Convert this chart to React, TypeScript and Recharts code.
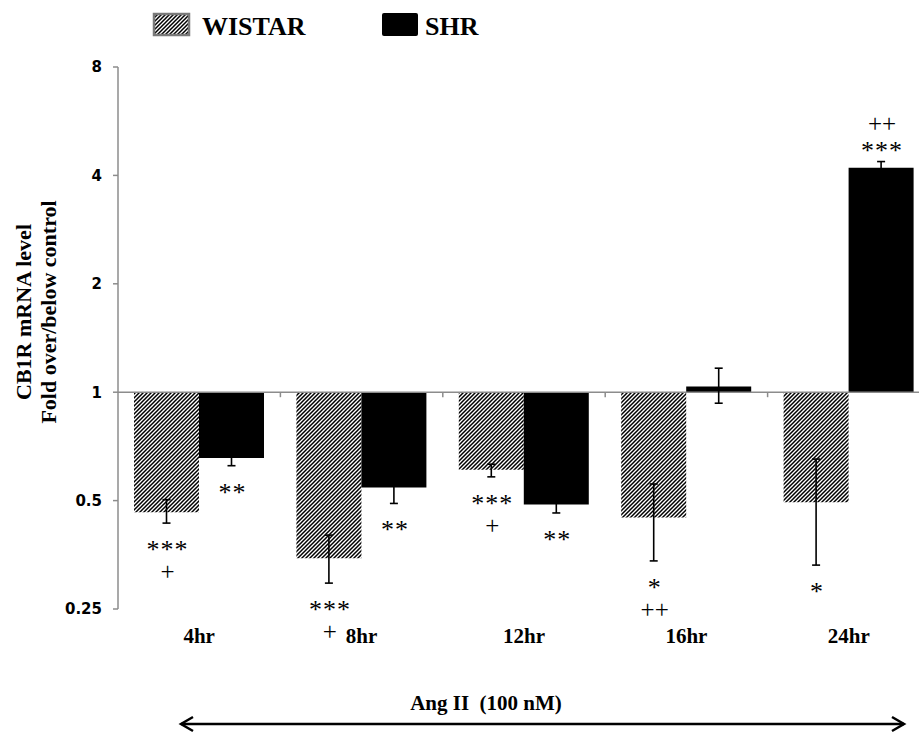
import React from "react";
import { BarChart, Bar, XAxis, YAxis, ErrorBar, LabelList, ReferenceLine } from "recharts";

const categories = ["4hr", "8hr", "12hr", "16hr", "24hr"];

const wistar = [0.464, 0.346, 0.609, 0.449, 0.495];
const wistarLow = [0.433, 0.295, 0.582, 0.34, 0.331];
const wistarHigh = [0.503, 0.401, 0.631, 0.556, 0.652];

const shr = [0.657, 0.544, 0.488, 1.037, 4.2];
const shrLow = [0.625, 0.491, 0.462, 0.932, 4.03];
const shrHigh = [0.69, 0.6, 0.515, 1.166, 4.37];

const wistarStars = ["***", "***", "***", "*", "*"];
const wistarPlus = ["+", "+", "+", "++", ""];
const shrStars = ["**", "**", "**", "", "***"];
const shrPlus = ["", "", "", "", "++"];

const yTicks = [0.25, 0.5, 1, 2, 4, 8];

const data = categories.map((name, i) => ({
  name,
  wistar: [1, wistar[i]],
  shr: [1, shr[i]],
  wistarErr: [wistar[i] - wistarLow[i], wistarHigh[i] - wistar[i]],
  shrErr: [shr[i] - shrLow[i], shrHigh[i] - shr[i]],
}));

const SERIF = "'Liberation Serif', 'Times New Roman', serif";
const AXIS = "#8c8c8c";

function makeLabel(vals: number[], lows: number[], highs: number[], stars: string[], plus: string[]) {
  return (props: any) => {
    const { x, y, width, height, index } = props;
    const v = vals[index];
    if (!stars[index] && !plus[index]) return null;
    const top = Math.min(y, y + height);
    const bottom = Math.max(y, y + height);
    const base = v < 1 ? top : bottom;
    const end = v < 1 ? bottom : top;
    // pixel position of a value, from the two ends the scale gave this bar
    const k = (end - base) / Math.log(v);
    const px = (e: number) => base + k * Math.log(e);
    const cx = x + width / 2 + 1;
    const starStyle = { fontFamily: SERIF, fontSize: 26, letterSpacing: 1, fill: "#000" } as const;
    const plusStyle = { fontFamily: SERIF, fontSize: 25, letterSpacing: 0, fill: "#000" } as const;
    const sy = v < 1 ? px(lows[index]) + 35 : px(highs[index]) - 3;
    const py = v < 1 ? sy + 22 : sy - 27;
    return (
      <g>
        <text x={cx} y={sy} textAnchor="middle" style={starStyle}>{stars[index]}</text>
        <text x={cx} y={py} textAnchor="middle" style={plusStyle}>{plus[index]}</text>
      </g>
    );
  };
}

const XTick = (props: any) => {
  const { x, y, payload } = props;
  return (
    <text x={x} y={y} dy={34} textAnchor="middle" fill="#000"
      style={{ fontFamily: SERIF, fontWeight: "bold", fontSize: 21 }}>
      {payload.value}
    </text>
  );
};

const Baseline = (p: any) => {
  const { x1, x2, y1 } = p;
  const step = (x2 - x1) / categories.length;
  return (
    <g>
      <line x1={x1} x2={x2} y1={y1} y2={y1} stroke={AXIS} strokeWidth={1.5} />
      {categories.map((c, i) =>
        i > 0 ? (
          <line key={c} x1={x1 + i * step} x2={x1 + i * step} y1={y1} y2={y1 + 5} stroke={AXIS} strokeWidth={1.5} />
        ) : null
      )}
    </g>
  );
};

export default function App() {
  return (
    <div style={{ position: "absolute", left: 0, top: 0, width: 919, height: 733, overflow: "hidden", background: "#fff" }}>
      <BarChart
        width={930}
        height={733}
        data={data}
        margin={{ top: 67, right: 0, bottom: 94, left: 0 }}
        barGap={0}
        barSize={65}
      >
        <defs>
          <pattern id="hatch" width="4" height="4" patternUnits="userSpaceOnUse">
            <rect width="4" height="4" fill="#fff" />
            <path d="M-1,1 L1,-1 M0,4 L4,0 M3,5 L5,3" stroke="#000" strokeWidth={1.5} />
          </pattern>
        </defs>
        <XAxis dataKey="name" axisLine={false} tickLine={false} tickSize={0} tickMargin={0} height={30} tick={<XTick />} />
        <YAxis
          scale="log"
          domain={[0.25, 8]}
          ticks={yTicks}
          allowDataOverflow
          width={118}
          axisLine={{ stroke: AXIS, strokeWidth: 1.5 }}
          tickLine={{ stroke: AXIS, strokeWidth: 1.5 }}
          tickSize={5}
          tickMargin={11}
          tick={{ fill: "#000", fontFamily: "'DejaVu Sans', Verdana, sans-serif", fontWeight: "bold", fontSize: 15 }}
        />
        <ReferenceLine y={1} shape={Baseline} />
        <Bar dataKey="wistar" fill="url(#hatch)" isAnimationActive={false}>
          <ErrorBar dataKey="wistarErr" stroke="#000" strokeWidth={1.6} width={4} />
          <LabelList dataKey="wistar" content={makeLabel(wistar, wistarLow, wistarHigh, wistarStars, wistarPlus)} />
        </Bar>
        <Bar dataKey="shr" fill="#000" isAnimationActive={false}>
          <ErrorBar dataKey="shrErr" stroke="#000" strokeWidth={1.6} width={4} />
          <LabelList dataKey="shr" content={makeLabel(shr, shrLow, shrHigh, shrStars, shrPlus)} />
        </Bar>
      </BarChart>

      <svg width={919} height={733} style={{ position: "absolute", left: 0, top: 0, pointerEvents: "none" }}>
        <defs>
          <pattern id="hatchLegend" width="4" height="4" patternUnits="userSpaceOnUse">
            <rect width="4" height="4" fill="#fff" />
            <path d="M-1,1 L1,-1 M0,4 L4,0 M3,5 L5,3" stroke="#000" strokeWidth={1.5} />
          </pattern>
        </defs>
        <rect x={154} y={14} width={35} height={21} fill="url(#hatchLegend)" stroke="#7a7a7a" strokeWidth={2.5} />
        <text x={202} y={35} fill="#000" style={{ fontFamily: SERIF, fontWeight: "bold", fontSize: 26 }}>WISTAR</text>
        <rect x={382} y={13} width={36} height={23} rx={2} fill="#000" />
        <text x={425} y={35} fill="#000" style={{ fontFamily: SERIF, fontWeight: "bold", fontSize: 26 }}>SHR</text>

        <g transform="translate(0, 312) rotate(-90)">
          <text x={0} y={31} textAnchor="middle" fill="#000" style={{ fontFamily: SERIF, fontWeight: "bold", fontSize: 22 }}>
            CB1R mRNA level
          </text>
          <text x={0} y={56} textAnchor="middle" fill="#000" style={{ fontFamily: SERIF, fontWeight: "bold", fontSize: 22 }}>
            Fold over/below control
          </text>
        </g>

        <text x={486} y={710} textAnchor="middle" fill="#000"
          style={{ fontFamily: SERIF, fontWeight: "bold", fontSize: 21, whiteSpace: "pre" }}>
          {"Ang II  (100 nM)"}
        </text>
        <line x1={181} x2={904} y1={724} y2={724} stroke="#000" strokeWidth={2.5} />
        <path d="M193,717 L181,724 L193,731" fill="none" stroke="#000" strokeWidth={2.5} />
        <path d="M892,717 L904,724 L892,731" fill="none" stroke="#000" strokeWidth={2.5} />
      </svg>
    </div>
  );
}
